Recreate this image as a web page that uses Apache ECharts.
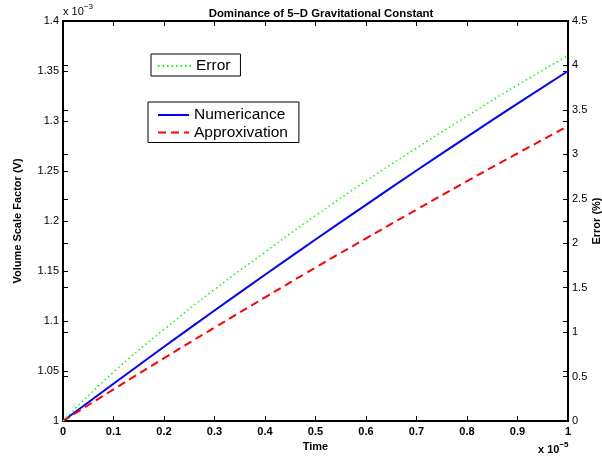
<!DOCTYPE html>
<html>
<head>
<meta charset="utf-8">
<script src="https://cdn.jsdelivr.net/npm/echarts@6/dist/echarts.min.js"></script>
<style>html,body{margin:0;padding:0;background:#fff}#c{width:602px;height:464px}</style>
</head>
<body>
<div id="c"></div>
<script>
const times = [0, 0.1, 0.2, 0.3, 0.4, 0.5, 0.6, 0.7, 0.8, 0.9, 1.0];
const numericance = [1.0, 1.0373, 1.0742, 1.1105, 1.1462, 1.1815, 1.2162, 1.2505, 1.2842, 1.3173, 1.350];
const approxivation = [1.0, 1.0316, 1.0628, 1.0934, 1.1236, 1.1534, 1.1826, 1.2114, 1.2398, 1.2676, 1.295];
const errorPct = [0, 0.55, 1.03, 1.48, 1.90, 2.31, 2.70, 3.07, 3.43, 3.78, 4.11];

const FONT = '"Liberation Sans", Arial, Helvetica, sans-serif';
const pairs = (ys) => times.map((t, i) => [t, ys[i]]);

const axisLine = { show: true, onZero: false, lineStyle: { color: '#000', width: 2 } };
const tick = { show: true, inside: true, length: 5, lineStyle: { color: '#000', width: 1 } };
const hiddenSymbol = { opacity: 0, color: 'transparent', borderWidth: 0 };

const chart = echarts.init(document.getElementById('c'), null, { renderer: 'canvas' });
chart.setOption({
  animation: false,
  backgroundColor: '#fff',
  title: {
    text: 'Dominance of 5\u2013D Gravitational Constant',
    left: 316, top: 3, textAlign: 'center',
    textStyle: { fontFamily: FONT, fontSize: 11.4, fontWeight: 'bold', color: '#000' }
  },
  grid: { left: 63, top: 21, width: 505, height: 400, containLabel: false, outerBoundsMode: 'none' },
  legend: [
    {
      data: ['Error'], orient: 'vertical', left: 151, top: 54,
      backgroundColor: '#fff', borderColor: '#000', borderWidth: 1, borderRadius: 0,
      padding: [4, 10, 2, 6], itemWidth: 33, itemHeight: 14,
      itemStyle: hiddenSymbol,
      textStyle: { fontFamily: FONT, fontSize: 15.5, color: '#000' }
    },
    {
      data: ['Numericance', 'Approxivation'], orient: 'vertical', left: 148, top: 102,
      backgroundColor: '#fff', borderColor: '#000', borderWidth: 1, borderRadius: 0,
      padding: [5, 11, 2, 9], itemWidth: 31, itemHeight: 14, itemGap: 1.5,
      itemStyle: hiddenSymbol,
      textStyle: { fontFamily: FONT, fontSize: 15.5, color: '#000' }
    }
  ],
  xAxis: [
    {
      type: 'value', min: 0, max: 1, interval: 0.1, position: 'bottom',
      name: 'Time', nameLocation: 'middle', nameGap: 15,
      nameTextStyle: { fontFamily: FONT, fontSize: 11, fontWeight: 'bold', color: '#000' },
      axisLine, axisTick: tick, splitLine: { show: false },
      axisLabel: { fontFamily: FONT, fontSize: 11, fontWeight: 'bold', color: '#000', margin: 5 }
    },
    {
      type: 'value', min: 0, max: 1, interval: 0.1, position: 'top',
      axisLine, axisTick: tick, splitLine: { show: false }, axisLabel: { show: false }
    }
  ],
  yAxis: [
    {
      type: 'value', min: 1, max: 1.4, interval: 0.05, position: 'left',
      name: 'Volume Scale Factor (V)', nameLocation: 'middle', nameGap: 40, nameRotate: 90,
      nameMoveOverlap: false,
      nameTextStyle: { fontFamily: FONT, fontSize: 11, fontWeight: 'bold', color: '#000' },
      axisLine, axisTick: tick, splitLine: { show: false },
      axisLabel: { fontFamily: FONT, fontSize: 11, color: '#000', margin: 4 }
    },
    {
      type: 'value', min: 0, max: 4.5, interval: 0.5, position: 'right',
      name: 'Error (%)', nameLocation: 'middle', nameGap: 23, nameRotate: 90,
      nameMoveOverlap: false,
      nameTextStyle: { fontFamily: FONT, fontSize: 11, fontWeight: 'bold', color: '#000' },
      axisLine, axisTick: tick, splitLine: { show: false },
      axisLabel: { fontFamily: FONT, fontSize: 11, color: '#000', margin: 4 }
    },
    {
      type: 'value', min: 1, max: 1.4, interval: 0.05, position: 'right',
      axisLine, axisTick: tick, splitLine: { show: false }, axisLabel: { show: false }
    },
    {
      type: 'value', min: 0, max: 4.5, interval: 0.5, position: 'left',
      axisLine, axisTick: tick, splitLine: { show: false }, axisLabel: { show: false }
    }
  ],
  series: [
    {
      name: 'Numericance', type: 'line', xAxisIndex: 0, yAxisIndex: 0, smooth: true,
      showSymbol: false, symbol: 'none', data: pairs(numericance),
      lineStyle: { color: '#0000ff', width: 2, type: 'solid' }, itemStyle: { color: '#0000ff' }
    },
    {
      name: 'Approxivation', type: 'line', xAxisIndex: 0, yAxisIndex: 0, smooth: true,
      showSymbol: false, symbol: 'none', data: pairs(approxivation),
      lineStyle: { color: '#ff0000', width: 2, type: [8, 5] }, itemStyle: { color: '#ff0000' }
    },
    {
      name: 'Error', type: 'line', xAxisIndex: 0, yAxisIndex: 1, smooth: true,
      showSymbol: false, symbol: 'none', data: pairs(errorPct),
      lineStyle: { color: '#00ff00', width: 1.5, type: [1.5, 3] }, itemStyle: { color: '#00ff00' }
    }
  ],
  graphic: [
    {
      type: 'text', left: 63, top: 3,
      style: {
        text: '{a|x 10}{b|\u22123}',
        rich: {
          a: { fontFamily: FONT, fontSize: 11, color: '#000', verticalAlign: 'bottom' },
          b: { fontFamily: FONT, fontSize: 8, color: '#000', verticalAlign: 'top', padding: [0, 0, 6, 0] }
        }
      }
    },
    {
      type: 'text', left: 538, top: 441,
      style: {
        text: '{a|x 10}{b|\u22125}',
        rich: {
          a: { fontFamily: FONT, fontSize: 11, fontWeight: 'bold', color: '#000', verticalAlign: 'bottom' },
          b: { fontFamily: FONT, fontSize: 8, fontWeight: 'bold', color: '#000', verticalAlign: 'top', padding: [0, 0, 6, 0] }
        }
      }
    }
  ]
});
</script>
</body>
</html>
